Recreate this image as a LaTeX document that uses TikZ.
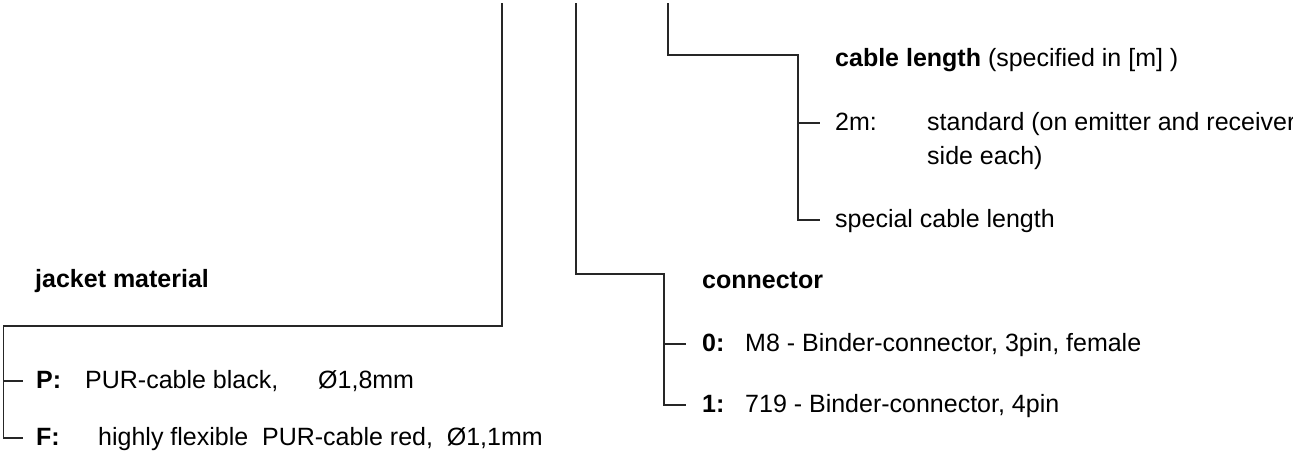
\documentclass[tikz,border=0pt]{standalone}
\usepackage{fontspec}
\setmainfont{Liberation Sans}
\begin{document}
\begin{tikzpicture}[x=1pt,y=-1pt,
  txt/.style={anchor=base west, inner sep=0pt, font=\fontsize{25}{31}\selectfont},
  ln/.style={draw=black!85, line width=1.3pt, line join=miter}]
\useasboundingbox (0,0) rectangle (1293,453);
% ---------- jacket material ----------
\coordinate (jtop) at (502,3);
\coordinate (jc) at (502,326);
\coordinate (jl) at (3.5,326);
\coordinate (jp) at (3.5,381);
\coordinate (jb) at (3.5,438);
\coordinate (jpe) at (23,381);
\coordinate (jbe) at (23,438);
\draw[ln] (jtop) -- (jc) -- (jl) -- (jb) -- (jbe);
\draw[ln] (jp) -- (jpe);
\node[txt] (jh) at (35,287) {\bfseries jacket material};
\node[txt] (jP) at (36,388) {\bfseries P:};
\node[txt] (jPt) at (85,388) {PUR-cable black,};
\node[txt] (jPd) at (318,388) {Ø1,8mm};
\node[txt] (jF) at (36,445) {\bfseries F:};
\node[txt] (jFt) at (98,445) {highly flexible\ \ PUR-cable red,\ \ Ø1,1mm};
% ---------- connector ----------
\coordinate (ctop) at (576,3);
\coordinate (cc) at (576,274);
\coordinate (cr) at (664,274);
\coordinate (c0) at (664,344);
\coordinate (c1) at (664,405);
\coordinate (c0e) at (686,344);
\coordinate (c1e) at (686,405);
\draw[ln] (ctop) -- (cc) -- (cr) -- (c1) -- (c1e);
\draw[ln] (c0) -- (c0e);
\node[txt] (ch) at (702,288) {\bfseries connector};
\node[txt] (c0k) at (702,351) {\bfseries 0:};
\node[txt] (c0t) at (745,351) {M8 - Binder-connector, 3pin, female};
\node[txt] (c1k) at (702,412) {\bfseries 1:};
\node[txt] (c1t) at (745,412) {719 - Binder-connector, 4pin};
% ---------- cable length ----------
\coordinate (ltop) at (668,3);
\coordinate (lc) at (668,55);
\coordinate (lr) at (798,55);
\coordinate (l2) at (798,123);
\coordinate (ls) at (798,220);
\coordinate (l2e) at (820,123);
\coordinate (lse) at (820,220);
\draw[ln] (ltop) -- (lc) -- (lr) -- (ls) -- (lse);
\draw[ln] (l2) -- (l2e);
\node[txt] (lh) at (835,66) {\textbf{cable length} (specified in [m] )};
\node[txt] (l2k) at (835,130) {2m:};
\node[txt] (l2t) at (927,130) {standard (on emitter and receiver};
\node[txt] (l2u) at (927,164) {side each)};
\node[txt] (lst) at (835,227) {special cable length};
\end{tikzpicture}
\end{document}
